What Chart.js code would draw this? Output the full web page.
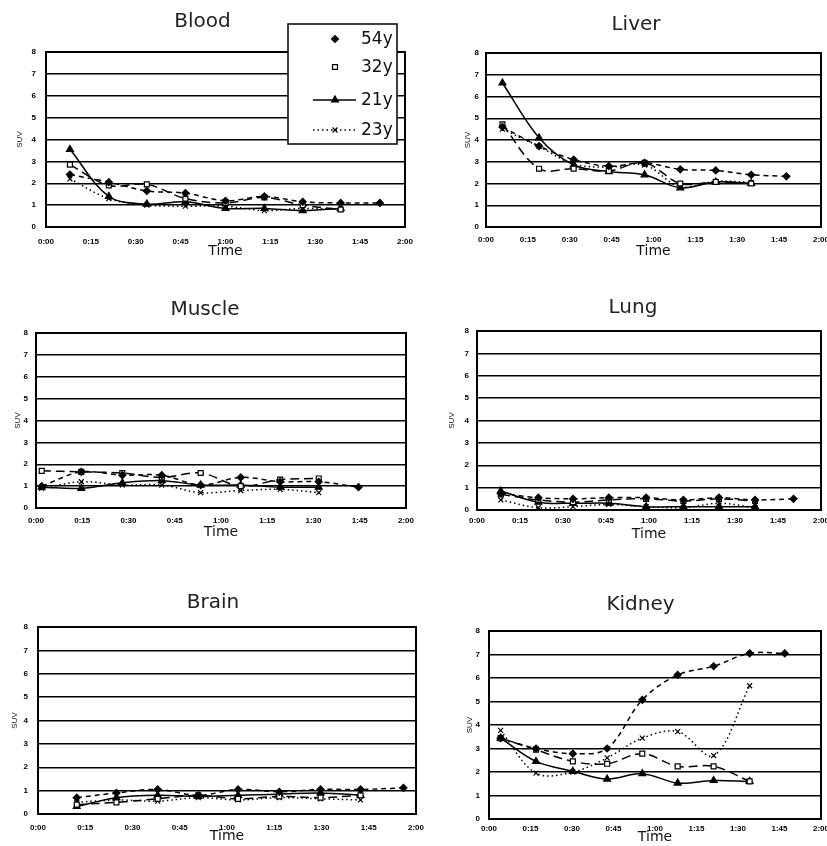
<!DOCTYPE html>
<html><head><meta charset="utf-8">
<script src="https://cdn.jsdelivr.net/npm/chart.js@4.4.1/dist/chart.umd.min.js"></script>
<style>
html,body{margin:0;padding:0;background:#fff;overflow:hidden;width:827px;height:846px;position:relative}
canvas{position:absolute}
</style></head><body>
<canvas id="c0"></canvas><canvas id="c1"></canvas><canvas id="c2"></canvas>
<canvas id="c3"></canvas><canvas id="c4"></canvas><canvas id="c5"></canvas>
<script>
// ---------- DATA ----------
const seriesNames = ['54y', '32y', '21y', '23y'];
const yTickValues = [0, 1, 2, 3, 4, 5, 6, 7, 8];
const timeTickMinutes = [0, 15, 30, 45, 60, 75, 90, 105, 120];
const organTitles = ['Blood', 'Liver', 'Muscle', 'Lung', 'Brain', 'Kidney'];

const bloodTimes = [8, 21, 33.7, 46.6, 60, 73, 85.8, 98.5, 111.6];
const blood54 = [2.4, 2.05, 1.65, 1.55, 1.2, 1.4, 1.15, 1.1, 1.1];
const blood32 = [2.85, 1.9, 1.95, 1.3, 1.1, 1.35, 1.0, 0.8];
const blood21 = [3.55, 1.4, 1.05, 1.15, 0.85, 0.85, 0.75, 0.85];
const blood23 = [2.2, 1.3, 1.0, 0.95, 0.95, 0.75, 0.85, 0.8];

const liverTimes = [5.9, 19, 31.4, 44, 56.8, 69.6, 82.3, 95, 107.6];
const liver54 = [4.6, 3.72, 3.1, 2.8, 2.95, 2.65, 2.6, 2.4, 2.33];
const liver32 = [4.72, 2.68, 2.68, 2.58, 2.95, 2.0, 2.07, 2.0];
const liver21 = [6.62, 4.1, 2.85, 2.55, 2.4, 1.8, 2.07, 2.0];
const liver23 = [4.5, 3.7, 2.9, 2.75, 2.85, 1.85, 2.1, 2.05];

const muscleTimes = [1.85, 14.7, 28, 40.8, 53.4, 66.4, 79.2, 91.7, 104.6];
const muscle54 = [1.0, 1.65, 1.5, 1.5, 1.05, 1.4, 1.2, 1.2, 0.95];
const muscle32 = [1.7, 1.65, 1.6, 1.4, 1.6, 1.0, 1.3, 1.35];
const muscle21 = [0.95, 0.9, 1.15, 1.25, 1.05, 1.05, 0.95, 0.95];
const muscle23 = [0.9, 1.2, 1.05, 1.05, 0.7, 0.8, 0.85, 0.7];

const lungTimes = [8.3, 21.4, 33.5, 46, 59, 72, 84.4, 97, 110.4];
const lung54 = [0.75, 0.55, 0.5, 0.55, 0.55, 0.45, 0.55, 0.45, 0.5];
const lung32 = [0.7, 0.45, 0.35, 0.45, 0.5, 0.4, 0.5, 0.4];
const lung21 = [0.85, 0.35, 0.3, 0.3, 0.15, 0.15, 0.15, 0.15];
const lung23 = [0.45, 0.1, 0.15, 0.25, 0.15, 0.1, 0.3, 0.1];

const brainTimes = [12.3, 24.9, 38, 50.9, 63.5, 76.6, 89.7, 102.4, 116];
const brain54 = [0.7, 0.9, 1.05, 0.8, 1.05, 0.95, 1.05, 1.05, 1.12];
const brain32 = [0.4, 0.5, 0.65, 0.8, 0.65, 0.75, 0.7, 0.8];
const brain21 = [0.32, 0.7, 0.8, 0.75, 0.8, 0.85, 0.9, 0.8];
const brain23 = [0.5, 0.6, 0.55, 0.7, 0.6, 0.7, 0.65, 0.6];

const kidneyTimes = [4.2, 17, 30.3, 42.7, 55.4, 68.2, 81.2, 94.2, 106.9];
const kidney54 = [3.44, 3.0, 2.78, 3.0, 5.07, 6.13, 6.5, 7.05, 7.05];
const kidney32 = [3.44, 2.95, 2.45, 2.35, 2.78, 2.24, 2.24, 1.6];
const kidney21 = [3.44, 2.45, 2.03, 1.7, 1.93, 1.53, 1.64, 1.6];
const kidney23 = [3.77, 1.95, 2.0, 2.6, 3.44, 3.72, 2.7, 5.67];

// ---------- STYLES / LAYOUT ----------
const seriesStyles = [
  {pointStyle: 'rectRot', radius: 3.5, fill: '#000', dash: [5, 4], width: 1.5, legendLine: false},
  {pointStyle: 'rect', radius: 3.5, fill: '#fff', dash: [9, 5], width: 1.5, legendLine: false},
  {pointStyle: 'triangle', radius: 4, fill: '#000', dash: [], width: 1.5, legendLine: true},
  {pointStyle: 'crossRot', radius: 3.5, fill: '#000', dash: [1.5, 3], width: 1.5, legendLine: true}
];

const panels = [
  {times: bloodTimes, series: [blood54, blood32, blood21, blood23], left: 0, top: 10, plotR: 405, plotB: 227, xH: 34, yW: 46, titlePadB: 18, yTitlePad: 15, yTickPad: 10, xTickPad: 10, legend: true},
  {times: liverTimes, series: [liver54, liver32, liver21, liver23], left: 451, top: 13, plotR: 821, plotB: 227, xH: 34, yW: 35, titlePadB: 16, yTitlePad: 12, yTickPad: 7, xTickPad: 8},
  {times: muscleTimes, series: [muscle54, muscle32, muscle21, muscle23], left: 4, top: 298, plotR: 406, plotB: 508, xH: 34, yW: 32, titlePadB: 11, yTitlePad: 9, yTickPad: 8, xTickPad: 8},
  {times: lungTimes, series: [lung54, lung32, lung21, lung23], left: 445, top: 296, plotR: 821, plotB: 510, xH: 34, yW: 32, titlePadB: 11, yTitlePad: 2, yTickPad: 8, xTickPad: 6},
  {times: brainTimes, series: [brain54, brain32, brain21, brain23], left: 10, top: 591, plotR: 416, plotB: 814, xH: 32, yW: 28, titlePadB: 12, yTitlePad: 0, yTickPad: 10, xTickPad: 9},
  {times: kidneyTimes, series: [kidney54, kidney32, kidney21, kidney23], left: 460, top: 593, plotR: 821, plotB: 819, xH: 28, yW: 29, titlePadB: 14, yTitlePad: 5, yTickPad: 9, xTickPad: 5}
];

function fmtTime(m) {
  const h = Math.floor(m / 60), mm = Math.round(m % 60);
  return h + ':' + String(mm).padStart(2, '0');
}

const framePlugin = {
  id: 'frame',
  afterDatasetsDraw(chart) {
    const a = chart.chartArea, ctx = chart.ctx;
    ctx.save();
    ctx.strokeStyle = '#000';
    ctx.lineWidth = 2;
    ctx.strokeRect(a.left, a.top, a.right - a.left, a.bottom - a.top);
    ctx.restore();
  }
};

function makeLegendPlugin(canvasLeft, canvasTop) {
  return {
    id: 'boxLegend',
    afterDraw(chart) {
      const ctx = chart.ctx;
      const bx = 288 - canvasLeft, by = 24 - canvasTop, bw = 109, bh = 120;
      const rows = [39, 67, 100, 130];
      ctx.save();
      ctx.fillStyle = '#fff';
      ctx.fillRect(bx, by, bw, bh);
      ctx.strokeStyle = '#000';
      ctx.lineWidth = 1.5;
      ctx.strokeRect(bx, by, bw, bh);
      seriesNames.forEach((name, i) => {
        const st = seriesStyles[i];
        const y = rows[i] - canvasTop;
        const mx = 335 - canvasLeft;
        if (st.legendLine) {
          ctx.save();
          ctx.strokeStyle = '#000';
          ctx.lineWidth = st.width;
          ctx.setLineDash(st.dash);
          ctx.beginPath();
          ctx.moveTo(313 - canvasLeft, y);
          ctx.lineTo(356 - canvasLeft, y);
          ctx.stroke();
          ctx.restore();
        }
        ctx.save();
        ctx.setLineDash([]);
        ctx.fillStyle = st.fill;
        ctx.strokeStyle = '#000';
        ctx.lineWidth = 1.2;
        Chart.helpers.drawPoint(ctx, {pointStyle: st.pointStyle, radius: st.radius, rotation: 0, borderWidth: 1.2}, mx, y);
        ctx.restore();
        ctx.fillStyle = '#111';
        ctx.font = '17px "DejaVu Sans"';
        ctx.textBaseline = 'middle';
        ctx.textAlign = 'left';
        ctx.fillText(name, 361 - canvasLeft, y + 1);
      });
      ctx.restore();
    }
  };
}

panels.forEach((p, idx) => {
  const cv = document.getElementById('c' + idx);
  const padR = p.xTickPad + 10;
  const W = p.plotR + padR - p.left;
  const H = p.plotB + p.xH - p.top;
  cv.width = W; cv.height = H;
  cv.style.left = p.left + 'px'; cv.style.top = p.top + 'px';
  cv.style.width = W + 'px'; cv.style.height = H + 'px';

  const datasets = p.series.map((vals, i) => {
    const st = seriesStyles[i];
    return {
      label: seriesNames[i],
      data: vals.map((v, k) => ({x: p.times[k], y: v})),
      borderColor: '#000',
      backgroundColor: st.fill,
      borderWidth: st.width,
      borderDash: st.dash,
      pointStyle: st.pointStyle,
      pointRadius: st.radius,
      pointBorderWidth: 1.2,
      pointBackgroundColor: st.fill,
      pointBorderColor: '#000',
      tension: 0.35,
      fill: false
    };
  });

  const plugins = [framePlugin];
  if (p.legend) plugins.push(makeLegendPlugin(p.left, p.top));

  new Chart(cv, {
    type: 'line',
    data: {datasets},
    plugins,
    options: {
      responsive: false,
      animation: false,
      devicePixelRatio: 1,
      layout: {padding: {left: 0, top: 0, right: padR, bottom: 0}},
      plugins: {
        legend: {display: false},
        tooltip: {enabled: false},
        title: {
          display: true,
          text: organTitles[idx],
          color: '#222',
          font: {family: '"DejaVu Sans", sans-serif', size: 20, weight: 'normal', lineHeight: 1.2},
          padding: {top: 0, bottom: p.titlePadB}
        }
      },
      scales: {
        x: {
          type: 'linear',
          min: 0, max: 120,
          afterBuildTicks: (s) => { s.ticks = timeTickMinutes.map(v => ({value: v})); },
          afterFit: (s) => { s.height = p.xH; },
          grid: {display: false, drawTicks: false},
          border: {display: true, color: '#000', width: 2},
          ticks: {
            color: '#000',
            padding: p.xTickPad,
            autoSkip: false,
            maxRotation: 0,
            font: {family: '"Liberation Sans", sans-serif', size: 8, weight: 'bold'},
            callback: (v) => fmtTime(v)
          },
          title: {
            display: true, text: 'Time', color: '#111',
            font: {family: '"DejaVu Sans", sans-serif', size: 14, lineHeight: 1.2},
            padding: {top: 0, bottom: 1}
          }
        },
        y: {
          min: 0, max: 8,
          afterBuildTicks: (s) => { s.ticks = yTickValues.map(v => ({value: v})); },
          afterFit: (s) => { s.width = p.yW; },
          grid: {display: true, color: '#000', lineWidth: 1.5, drawTicks: false},
          border: {display: true, color: '#000', width: 2},
          ticks: {
            color: '#000',
            padding: p.yTickPad,
            font: {family: '"Liberation Sans", sans-serif', size: 8, weight: 'bold'}
          },
          title: {
            display: true, text: 'SUV', color: '#111',
            font: {family: '"Liberation Sans", sans-serif', size: 8, lineHeight: 1.2},
            padding: {top: p.yTitlePad, bottom: 0}
          }
        }
      }
    }
  });
});
</script>
</body></html>
